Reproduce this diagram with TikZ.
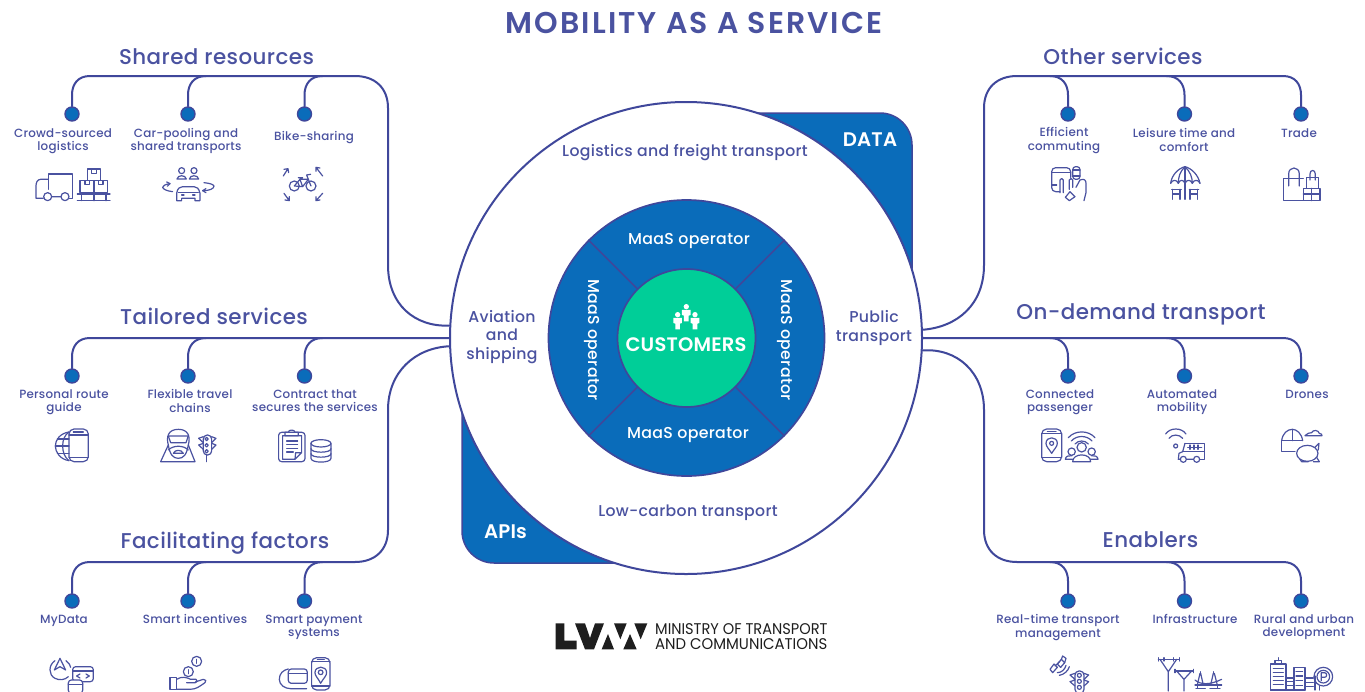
\documentclass[tikz,border=0pt]{standalone}
\usepackage{fontspec}
\setmainfont{Poppins}
\newfontfamily\medf[LetterSpace=2]{Poppins Medium}
\newfontfamily\semif[LetterSpace=1]{Poppins SemiBold}
\newfontfamily\titlef[LetterSpace=6.8]{Poppins SemiBold}
\definecolor{ink}{HTML}{4A52A0}
\definecolor{edge}{HTML}{3F479B}
\definecolor{wedge}{HTML}{0A6CBA}
\definecolor{mint}{HTML}{00CE98}
\definecolor{logok}{HTML}{1E1E1E}
\tikzset{
  conn/.style={draw=edge,line width=2pt,line cap=round},
  dotn/.style={circle,fill=wedge,draw=edge,line width=1.4pt,minimum size=14pt,inner sep=0pt},
  lbl/.style={text=ink,align=center,inner sep=0pt,font=\medf\fontsize{11.9}{13.5}\selectfont},
  head/.style={text=ink,inner sep=0pt,font=\medf\fontsize{21.4}{24}\selectfont},
  inner/.style={text=ink,align=center,inner sep=0pt,font=\medf\fontsize{15.7}{18.5}\selectfont},
  oper/.style={text=white,inner sep=0pt,font=\medf\fontsize{15.8}{17}\selectfont},
  tag/.style={text=white,inner sep=0pt,font=\semif\fontsize{19.7}{22}\selectfont},
  ic/.style={draw=ink,line width=1.2pt,line join=round,line cap=round},
  zoomat/.style 2 args={shift={(#1pt,-#2pt)},x=0.3333pt,y=-0.3333pt},
}
\newcommand{\branchL}[3]{\draw[conn] (#1) -- (#2,#3+19) .. controls (#2,#3+8) and (#2-6,#3) .. (#2-18,#3);}
\newcommand{\branchR}[3]{\draw[conn] (#1) -- (#2,#3+19) .. controls (#2,#3+8) and (#2+6,#3) .. (#2+18,#3);}
\begin{document}
\begin{tikzpicture}[x=1pt,y=-1pt]
\useasboundingbox (0,0) rectangle (1365,691);
\fill[white] (0,0) rectangle (1365,691);
% corner tabs
\draw[fill=wedge,draw=edge,line width=1.5pt,rounded corners=32pt] (690,113) -- (912,113) -- (912,300) -- (690,300) -- cycle;
\draw[fill=wedge,draw=edge,line width=1.5pt,rounded corners=32pt] (462,375) -- (462,563) -- (680,563) -- (680,375) -- cycle;
% circles
\node[circle,draw=edge,fill=white,line width=2pt,minimum size=472pt,inner sep=0pt] (big) at (686,338) {};
\node[circle,draw=edge,fill=wedge,line width=1.7pt,minimum size=276pt,inner sep=0pt] (ring) at (686.5,338) {};
\node[circle,draw=edge,fill=mint,line width=1.7pt,minimum size=138pt,inner sep=0pt] (core) at (686.5,338) {};
\draw[edge,line width=1.7pt] (core.45) -- (ring.45) (core.135) -- (ring.135) (core.225) -- (ring.225) (core.315) -- (ring.315);
% dots
\foreach \n/\x/\y in {a1/72/114,a2/188/114,a3/304.5/114,
  b1/72/376,b2/188/376,b3/304.5/376,
  c1/72/601,c2/188/601,c3/304.5/601,
  d1/1068/114,d2/1184.5/114,d3/1301/114,
  e1/1068/376,e2/1184.5/376,e3/1301/376,
  f1/1068/601,f2/1184.5/601,f3/1301/601}
  \node[dotn] (\n) at (\x,\y) {};
% left connectors
\draw[conn] (big.177.3) .. controls (415,327) and (388,305) .. (388,265) -- (388,108) .. controls (388,88) and (375,76) .. (355,76) -- (90,76) .. controls (78,76) and (72,84) .. (72,95) -- (a1);
\branchR{a2}{188}{76}
\branchR{a3}{304.5}{76}
\draw[conn] (big.west) -- (90,338) .. controls (78,338) and (72,346) .. (72,357) -- (b1);
\branchR{b2}{188}{338}
\branchR{b3}{304.5}{338}
\draw[conn] (big.182.4) .. controls (415,348) and (388,372) .. (388,410) -- (388,530) .. controls (388,550) and (375,562) .. (355,562) -- (90,562) .. controls (78,562) and (72,570) .. (72,581) -- (c1);
\branchR{c2}{188}{562}
\branchR{c3}{304.5}{562}
% right connectors
\draw[conn] (big.2.7) .. controls (957,327) and (984,305) .. (984,265) -- (984,108) .. controls (984,88) and (997,76) .. (1017,76) -- (1283,76) .. controls (1295,76) and (1301,84) .. (1301,95) -- (d3);
\branchL{d1}{1068}{76}
\branchL{d2}{1184.5}{76}
\draw[conn] (big.east) -- (1283,338) .. controls (1295,338) and (1301,346) .. (1301,357) -- (e3);
\branchL{e1}{1068}{338}
\branchL{e2}{1184.5}{338}
\draw[conn] (big.357.6) .. controls (957,348) and (984,372) .. (984,410) -- (984,530) .. controls (984,550) and (997,562) .. (1017,562) -- (1283,562) .. controls (1295,562) and (1301,570) .. (1301,581) -- (f3);
\branchL{f1}{1068}{562}
\branchL{f2}{1184.5}{562}
% titles
\node[text=ink,inner sep=0pt,font=\titlef\fontsize{30}{34}\selectfont] (title) at (694,23) {MOBILITY AS A SERVICE};
\node[head] (h1) at (216.5,56.5) {Shared resources};
\node[head] (h2) at (214,316.5) {Tailored services};
\node[head] (h3) at (225,543) {Facilitating factors};
\node[head] (h4) at (1123,56.5) {Other services};
\node[head] (h5) at (1141,314.5) {On-demand transport};
\node[head] (h6) at (1150.5,540) {Enablers};
% labels
\node[lbl] (l1) at (63,141) {Crowd-sourced\\logistics};
\node[lbl] (l2) at (186,141) {Car-pooling and\\shared transports};
\node[lbl] (l3) at (314,138) {Bike-sharing};
\node[lbl] (l4) at (64,402) {Personal route\\guide};
\node[lbl] (l5) at (190,401) {Flexible travel\\chains};
\node[lbl] (l6) at (315,400.5) {Contract that\\secures the services};
\node[lbl] (l7) at (64,620.5) {MyData};
\node[lbl] (l8) at (195,619) {Smart incentives};
\node[lbl] (l9) at (314,627.5) {Smart payment\\systems};
\node[lbl] (l10) at (1064,140.5) {Efficient\\commuting};
\node[lbl] (l11) at (1184,140) {Leisure time and\\comfort};
\node[lbl] (l12) at (1299,133.5) {Trade};
\node[lbl] (l13) at (1060,402) {Connected\\passenger};
\node[lbl] (l14) at (1182,402) {Automated\\mobility};
\node[lbl] (l15) at (1307,394.5) {Drones};
\node[lbl] (l16) at (1058,627.5) {Real-time transport\\management};
\node[lbl] (l17) at (1195,619) {Infrastructure};
\node[lbl] (l18) at (1304,627) {Rural and urban\\development};
% centre text
\node[inner] (m1) at (685,153) {Logistics and freight transport};
\node[inner] (m2) at (688,513) {Low-carbon transport};
\node[inner] (m3) at (502,337) {Aviation\\and\\shipping};
\node[inner] (m4) at (874,328) {Public\\transport};
\node[oper] (o1) at (689,241.5) {MaaS operator};
\node[oper] (o2) at (688,435.5) {MaaS operator};
\node[oper,rotate=-90] (o3) at (592,340) {MaaS operator};
\node[oper,rotate=-90] (o4) at (785,340) {MaaS operator};
\node[text=white,inner sep=0pt,font=\semif\fontsize{19.5}{22}\selectfont] (cust) at (686,344.5) {CUSTOMERS};
\node[tag] (t1) at (870,140) {DATA};
\node[tag] (t2) at (505.5,531.5) {APIs};
% people icon
\begin{scope}[zoomat={530}{190},fill=white]
\foreach \cx/\cy in {443/374,469/350,495/374}{
  \fill (\cx,\cy) circle[radius=8];
  \fill (\cx-13,\cy+10) -- (\cx+13,\cy+10) -- (\cx+13,\cy+25) -- (\cx+7,\cy+27) -- (\cx+7,\cy+44) -- (\cx-7,\cy+44) -- (\cx-7,\cy+27) -- (\cx-13,\cy+25) -- cycle;}
\end{scope}
% logo
\begin{scope}[zoomat={540}{610},fill=logok]
\fill (47,40) -- (73,40) -- (73,92) -- (110,92) -- (110,118) -- (47,118) -- cycle;
\fill (105,40) -- (135,40) -- (150,84) -- (165,40) -- (192,40) -- (162,118) -- (135,118) -- cycle;
\fill (222,40) -- (260,40) -- (241,88) -- cycle;
\fill (185,118) -- (222,118) -- (204,72) -- cycle;
\fill (250,118) -- (290,118) -- (270,72) -- cycle;
\fill (283,40) -- (322,40) -- (302,88) -- cycle;
\end{scope}
\node[anchor=west,inner sep=0pt,text=logok,font=\fontsize{15.5}{16}\selectfont] (lg1) at (655,629) {\scalebox{0.94}[1]{MINISTRY OF TRANSPORT}};
\node[anchor=west,inner sep=0pt,text=logok,font=\fontsize{15.5}{16}\selectfont] (lg2) at (655,644) {\scalebox{0.96}[1]{AND COMMUNICATIONS}};
% ---- icons: shared resources
\begin{scope}[zoomat={0}{30},ic]
\draw (145,478) -- (145,432) -- (218,432) -- (218,505) -- (208,505);
\draw (145,448) -- (122,448) .. controls (112,448) and (108,458) .. (108,468) -- (108,505) -- (130,505);
\draw (143,500) circle[radius=12] (195,500) circle[radius=12] (157,500) -- (181,500);
\draw (262,417) rectangle (302,452) (240,452) rectangle (282,487) (282,452) rectangle (322,487);
\draw (275,417) -- (275,430) -- (290,430) -- (290,417);
\draw (255,452) -- (255,464) -- (268,464) -- (268,452) (296,452) -- (296,464) -- (309,464) -- (309,452);
\draw (232,492) -- (330,492) (232,512) -- (330,512) (245,492) -- (245,512) (282,492) -- (282,512) (318,492) -- (318,512);
% car pooling
\foreach \x in {545,582}{\draw (\x,422) circle[radius=9]; \draw (\x-14,447) .. controls (\x-12,434) and (\x+12,434) .. (\x+14,447) -- cycle;}
\draw (530,512) -- (530,490) .. controls (532,475) and (540,470) .. (548,470) -- (582,470) .. controls (590,470) and (597,475) .. (600,490) -- (600,512) -- (585,512) -- (585,505) -- (545,505) -- (545,512) -- cycle;
\draw (535,488) -- (595,488) (545,495) -- (552,495) (578,495) -- (585,495);
\draw (510,461) .. controls (495,463) and (488,468) .. (488,472) .. controls (490,478) and (500,483) .. (518,485);
\draw (510,461) -- (500,456) (510,461) -- (502,469);
\draw (608,482) .. controls (630,482) and (642,476) .. (642,468) .. controls (640,463) and (630,460) .. (612,458);
\draw (608,482) -- (618,476) (608,482) -- (618,488);
% bike
\draw (883,468) circle[radius=15] (933,468) circle[radius=15];
\draw (883,468) -- (900,448) -- (925,448) -- (908,470) -- (883,468) (900,448) -- (908,470) (933,468) -- (920,435) -- (932,433) (908,443) -- (895,443);
\draw (850,438) -- (864,416) (864,416) -- (852,418) (864,416) -- (866,428);
\draw (968,438) -- (948,412) (948,412) -- (948,424) (948,412) -- (960,414);
\draw (852,490) -- (868,512) (868,512) -- (868,500) (868,512) -- (855,510);
\draw (968,490) -- (948,512) (948,512) -- (960,510) (948,512) -- (948,500);
\end{scope}
% ---- tailored services
\begin{scope}[zoomat={0}{370},ic]
\draw[rounded corners=5pt] (207,177) rectangle (265,275);
\draw (220,186) -- (250,186) (207,262) -- (265,262) (207,195) -- (265,195);
\draw (207,186) .. controls (180,190) and (166,210) .. (166,228) .. controls (166,246) and (180,268) .. (207,272);
\draw (207,186) .. controls (194,195) and (188,210) .. (188,228) .. controls (188,246) and (194,262) .. (207,272);
\draw (172,207) -- (207,207) (166,228) -- (207,228) (172,250) -- (207,250);
% train
\draw (482,275) -- (505,225) .. controls (498,200) and (505,178) .. (535,178) .. controls (565,178) and (572,200) .. (565,225) -- (585,275) -- cycle;
\draw (505,198) -- (565,198) -- (558,218) -- (512,218) -- cycle;
\draw (505,240) .. controls (520,225) and (550,225) .. (565,240);
\draw (505,225) .. controls (510,255) and (520,265) .. (535,265) .. controls (550,265) and (560,255) .. (565,225);
\draw (520,250) .. controls (525,238) and (545,238) .. (550,250) -- cycle;
% light
\draw[rounded corners=4pt] (610,195) rectangle (635,255);
\draw (620,207) circle[radius=5] (620,226) circle[radius=5] (620,244) circle[radius=5];
\draw (610,200) -- (596,205) -- (610,218) (635,200) -- (648,205) -- (635,218);
\draw (610,220) -- (596,225) -- (610,238) (635,220) -- (648,225) -- (635,238);
\draw (620,255) -- (620,275);
% clipboard
\draw[rounded corners=3pt] (836,187) rectangle (915,275);
\draw (848,197) -- (905,197) -- (905,248) -- (885,268) -- (848,268) -- cycle (905,248) -- (887,248) -- (885,268);
\draw (855,187) -- (865,187) .. controls (865,178) and (885,178) .. (885,187) -- (895,187) -- (895,197) -- (855,197) -- cycle;
\draw (860,213) -- (893,213) (860,224) -- (893,224) (860,235) -- (893,235) (860,246) -- (880,246);
% database
\draw (963,220) ellipse[x radius=30,y radius=11];
\draw (933,220) -- (933,265) .. controls (933,280) and (993,280) .. (993,265) -- (993,220);
\draw (933,236) .. controls (933,250) and (993,250) .. (993,236);
\draw (933,251) .. controls (933,265) and (993,265) .. (993,251);
\end{scope}
% ---- facilitating
\begin{scope}[zoomat={0}{590},ic]
\clip (0,190) rectangle (1200,303);
\draw (165,212) .. controls (145,225) and (145,255) .. (165,265) .. controls (178,272) and (195,270) .. (205,260);
\draw (198,212) .. controls (206,218) and (212,226) .. (212,232);
\draw (180,205) -- (163,240) -- (180,230) -- (197,240) -- cycle;
\draw[rounded corners=3pt] (218,230) rectangle (280,275);
\draw (218,243) -- (280,243);
\draw (230,258) -- (240,252) (230,258) -- (240,264) (268,258) -- (258,252) (268,258) -- (258,264);
\draw[fill=white,rounded corners=3pt] (205,270) rectangle (248,310);
\draw (205,283) -- (248,283);
% coins
\draw (590,214) circle[radius=15] (565,245) circle[radius=15];
\draw (590,208) -- (590,220) (565,239) -- (565,251);
\draw (510,262) rectangle (530,298);
\draw (530,268) .. controls (545,258) and (560,262) .. (572,268) -- (588,268) .. controls (594,270) and (592,278) .. (586,278) -- (560,278);
\draw (586,276) -- (610,268) .. controls (618,268) and (620,274) .. (615,278) .. controls (600,288) and (590,298) .. (570,298) -- (530,298);
% card + phone
\draw[rounded corners=5pt] (935,203) rectangle (990,300);
\draw (935,215) -- (990,215) (935,288) -- (990,288) (952,209) -- (973,209);
\draw (962,280) .. controls (955,265) and (945,258) .. (945,248) .. controls (945,226) and (980,226) .. (980,248) .. controls (980,258) and (970,265) .. (962,280) -- cycle;
\draw (962,247) circle[radius=7];
\draw (865,237) .. controls (850,240) and (838,250) .. (838,268) .. controls (838,285) and (855,296) .. (872,296) -- (920,296);
\draw[rounded corners=3pt] (865,237) rectangle (922,280);
\draw (865,250) -- (922,250);
\end{scope}
% ---- other services
\begin{scope}[zoomat={980}{100},ic]
\draw[rounded corners=4pt] (240,275) -- (215,275) -- (215,203) -- (272,203) -- (272,232);
\draw (215,218) -- (272,218);
\draw (215,255) -- (230,255);
\draw[rounded corners=3pt] (278,200) rectangle (300,238);
\draw (278,210) -- (300,210) (278,228) -- (300,228);
\draw (240,278) -- (240,240) .. controls (240,234) and (250,234) .. (250,240) -- (250,278);
\draw (268,268) -- (268,240) .. controls (268,234) and (278,234) .. (278,240) -- (278,262);
\draw (288,262) -- (300,240) .. controls (312,235) and (318,240) .. (318,250) -- (318,278) -- (312,302);
\draw (256,292) -- (270,275) -- (285,290) -- (268,302) -- cycle;
% umbrella
\draw (572,250) .. controls (575,225) and (595,205) .. (615,200) .. controls (635,205) and (655,225) .. (660,250);
\draw (572,250) .. controls (578,238) and (590,238) .. (595,250) .. controls (600,238) and (610,238) .. (615,250) .. controls (620,238) and (632,238) .. (637,250) .. controls (642,238) and (655,238) .. (660,250);
\draw (615,200) .. controls (600,215) and (595,230) .. (595,250) (615,200) .. controls (630,215) and (637,230) .. (637,250);
\draw (615,200) -- (615,298);
\draw (578,268) -- (578,298) (600,268) -- (600,298) (578,282) -- (600,282) (575,268) -- (604,268);
\draw (630,268) -- (630,298) (652,268) -- (652,298) (630,282) -- (652,282) (628,268) -- (656,268);
% bags
\draw (970,235) -- (910,235) -- (910,302) -- (970,302);
\draw (926,258) -- (926,222) .. controls (926,198) and (958,198) .. (958,222) -- (958,258);
\draw (980,265) -- (980,232) -- (1015,232) -- (1015,265);
\draw (990,240) -- (990,222) .. controls (990,208) and (1006,208) .. (1006,222) -- (1006,240);
\draw (970,265) rectangle (1020,302);
\draw (970,282) -- (1020,282) (995,265) -- (995,302);
\end{scope}
% ---- on demand
\begin{scope}[zoomat={1000}{370},ic]
\draw[rounded corners=5pt] (125,177) rectangle (185,275);
\draw (125,190) -- (185,190) (125,262) -- (185,262) (142,184) -- (168,184);
\draw (155,250) .. controls (148,238) and (138,230) .. (138,220) .. controls (138,198) and (172,198) .. (172,220) .. controls (172,230) and (162,238) .. (155,250) -- cycle;
\draw (155,220) circle[radius=6];
\draw (205,203) .. controls (225,180) and (265,180) .. (285,203);
\draw (214,213) .. controls (230,195) and (260,195) .. (276,213);
\draw (225,222) .. controls (235,210) and (255,210) .. (265,222);
\draw (245,232) circle[radius=14] (215,245) circle[radius=11] (275,245) circle[radius=11];
\draw (218,275) .. controls (218,248) and (272,248) .. (272,275) -- cycle;
\draw (196,268) .. controls (196,258) and (208,256) .. (216,257) (196,268) -- (218,268);
\draw (294,268) .. controls (294,258) and (282,256) .. (274,257) (294,268) -- (272,268);
% auto bus
\draw (497,192) .. controls (510,172) and (545,172) .. (558,192);
\draw (507,205) .. controls (516,192) and (538,192) .. (548,205);
\draw (527,228) circle[radius=6];
\draw (555,220) -- (613,220) -- (613,268) -- (600,268);
\draw (555,220) -- (548,245) -- (537,250) -- (535,268) -- (540,268) (560,268) -- (580,268);
\draw (550,268) circle[radius=9] (590,268) circle[radius=9];
\draw (548,245) -- (613,245);
\draw (563,232) -- (605,232) (570,225) -- (570,238) (582,225) -- (582,238) (594,225) -- (594,238);
% drones
\draw (908,212) -- (845,212) -- (845,245) -- (885,245);
\draw (908,212) .. controls (905,190) and (890,178) .. (877,178) .. controls (862,178) and (848,190) .. (845,212);
\draw (877,178) -- (877,212);
\draw (915,197) .. controls (920,188) and (930,190) .. (935,188) .. controls (940,178) and (955,180) .. (958,190) .. controls (965,190) and (966,195) .. (966,197) -- cycle;
\draw (922,250) ellipse[x radius=32,y radius=24];
\draw (945,232) -- (957,220) -- (955,240) (950,262) -- (958,275) -- (940,275) (900,268) -- (905,275) -- (925,275);
\end{scope}
% ---- enablers
\begin{scope}[zoomat={980}{590},ic]
\clip (0,190) rectangle (1200,303);
\draw (210,238) -- (222,222) -- (232,232) -- (218,248) -- cycle;
\draw (232,222) -- (244,208) -- (254,218) -- (242,232) -- cycle;
\draw (244,208) -- (248,198) -- (258,205) -- (254,218) (225,228) -- (240,214);
\draw (232,248) .. controls (245,248) and (255,238) .. (258,226);
\draw (238,256) .. controls (252,254) and (265,242) .. (268,230);
\draw[rounded corners=4pt] (285,243) rectangle (312,310);
\draw (298,256) circle[radius=6] (298,274) circle[radius=6] (298,292) circle[radius=6];
\draw (285,250) -- (270,255) -- (285,268) (312,250) -- (326,255) -- (312,268) (285,270) -- (270,275) -- (285,288) (312,270) -- (326,275) -- (312,288);
% pylons
\draw (535,208) -- (598,208) (535,203) -- (535,213) (552,203) -- (552,213) (580,203) -- (580,213) (598,203) -- (598,213);
\draw (540,208) -- (565,245) -- (590,208) (565,245) -- (565,303);
\draw (585,243) -- (640,243) (585,238) -- (585,248) (640,238) -- (640,248);
\draw (590,243) -- (612,268) -- (635,243) (612,268) -- (612,303);
\draw (660,250) -- (652,285) (662,250) -- (670,285) (700,250) -- (692,285) (703,250) -- (712,285);
\draw (645,270) .. controls (662,285) and (690,285) .. (725,268);
\draw (645,285) -- (725,285) (652,285) -- (652,295) (712,285) -- (712,295) (648,296) -- (676,296) (690,296) -- (720,296);
\draw (661,245) -- (661,250) (701,245) -- (701,250);
% city
\draw (872,300) -- (872,222) -- (918,222) -- (918,300) -- cycle;
\draw (885,222) -- (885,212) -- (905,212) -- (905,222) (895,212) -- (895,203);
\draw (880,236) -- (910,236) (880,248) -- (910,248) (880,260) -- (910,260) (880,272) -- (910,272) (880,284) -- (910,284);
\draw (918,264) -- (942,264) (918,275) -- (942,275) (918,286) -- (942,286);
\draw (942,300) -- (942,232) -- (975,232) -- (975,300) -- cycle;
\draw (948,244) -- (968,244) (948,258) -- (968,258) (948,272) -- (968,272) (948,286) -- (968,286);
\draw (978,264) -- (1000,264) (978,278) -- (1000,278) (978,290) -- (1000,290);
\draw (1030,260) circle[radius=28] (1030,260) circle[radius=19];
\draw (1024,272) -- (1024,248) -- (1034,248) .. controls (1042,248) and (1042,262) .. (1034,262) -- (1024,262);
\draw (1005,258) -- (1005,300) (1018,288) -- (1018,300);
\draw (872,300) -- (975,300);
\end{scope}
\end{tikzpicture}
\end{document}
